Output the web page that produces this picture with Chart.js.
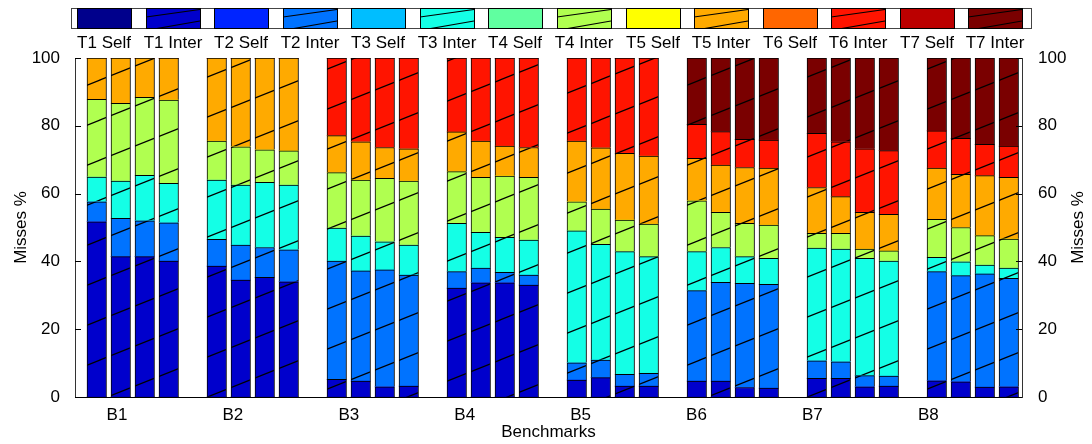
<!DOCTYPE html>
<html>
<head>
<meta charset="utf-8">
<script src="https://cdn.jsdelivr.net/npm/chart.js@4.4.1/dist/chart.umd.min.js"></script>
<style>
  body { margin: 0; background: #fff; }
</style>
</head>
<body>
<canvas id="myChart" width="1092" height="444"></canvas>
<script>
// benchmarks, 4 bars each
var categories = ["B1", "B2", "B3", "B4", "B5", "B6", "B7", "B8"];
var seriesNames = ["T1 Self", "T1 Inter", "T2 Self", "T2 Inter", "T3 Self", "T3 Inter", "T4 Self",
  "T4 Inter", "T5 Self", "T5 Inter", "T6 Self", "T6 Inter", "T7 Self", "T7 Inter"];
var seriesColors = ["#00008c", "#0000cc", "#0024ff", "#0073ff", "#00beff", "#14ffe6", "#60ffa0",
  "#b0ff50", "#ffff00", "#ffaa00", "#ff6600", "#ff1400", "#bb0000", "#7a0000"];

// values in % (Self series are all zero in the bars)
var t1Self = [0,0,0,0, 0,0,0,0, 0,0,0,0, 0,0,0,0, 0,0,0,0, 0,0,0,0, 0,0,0,0, 0,0,0,0];
var t1Inter = [51.7, 41.4, 41.4, 40.1, 38.6, 34.5, 35.3, 34.0, 5.2, 4.7, 3.0, 3.2, 32.1, 33.7, 33.7, 33.0,
  5.0, 5.7, 3.2, 3.2, 4.7, 4.7, 2.8, 2.6, 5.5, 5.5, 3.0, 3.2, 4.8, 4.5, 2.9, 3.0];
var t2Self = [0,0,0,0, 0,0,0,0, 0,0,0,0, 0,0,0,0, 0,0,0,0, 0,0,0,0, 0,0,0,0, 0,0,0,0];
var t2Inter = [5.9, 11.3, 10.6, 11.3, 7.9, 10.3, 8.8, 9.4, 34.9, 32.5, 34.5, 32.8, 4.9, 4.3, 3.1, 3.0,
  5.1, 5.2, 3.5, 3.8, 26.7, 29.1, 30.7, 30.6, 5.2, 4.9, 3.3, 3.0, 32.2, 31.3, 33.4, 32.0];
var t3Self = [0,0,0,0, 0,0,0,0, 0,0,0,0, 0,0,0,0, 0,0,0,0, 0,0,0,0, 0,0,0,0, 0,0,0,0];
var t3Inter = [7.3, 11.0, 13.4, 11.6, 17.5, 17.7, 19.2, 19.1, 9.7, 10.3, 8.3, 8.8, 14.2, 10.6, 10.3, 10.3,
  38.9, 34.1, 36.2, 34.4, 11.5, 10.3, 7.9, 7.7, 33.2, 33.2, 34.6, 33.9, 4.2, 4.1, 2.6, 3.0];
var t4Self = [0,0,0,0, 0,0,0,0, 0,0,0,0, 0,0,0,0, 0,0,0,0, 0,0,0,0, 0,0,0,0, 0,0,0,0];
var t4Inter = [22.9, 22.9, 23.0, 24.6, 11.5, 11.3, 9.6, 10.1, 16.4, 16.5, 18.7, 18.9, 15.3, 16.2, 18.1, 18.5,
  8.6, 10.4, 9.3, 9.6, 15.0, 10.4, 9.8, 9.8, 4.4, 4.7, 2.7, 3.0, 11.2, 10.1, 8.7, 8.6];
var t5Self = [0,0,0,0, 0,0,0,0, 0,0,0,0, 0,0,0,0, 0,0,0,0, 0,0,0,0, 0,0,0,0, 0,0,0,0];
var t5Inter = [12.2, 13.4, 11.6, 12.4, 24.5, 26.2, 27.1, 27.4, 10.9, 11.3, 9.1, 9.5, 11.7, 10.7, 8.8, 8.8,
  17.9, 18.1, 19.7, 20.1, 12.5, 13.9, 16.5, 16.8, 13.5, 10.8, 10.9, 10.8, 15.1, 15.7, 17.7, 18.2];
var t6Self = [0,0,0,0, 0,0,0,0, 0,0,0,0, 0,0,0,0, 0,0,0,0, 0,0,0,0, 0,0,0,0, 0,0,0,0];
var t6Inter = [0, 0, 0, 0, 0, 0, 0, 0, 22.9, 24.7, 26.4, 26.8, 21.8, 24.5, 26.0, 26.4,
  24.5, 26.5, 28.1, 28.9, 10.0, 9.9, 8.3, 8.3, 16.0, 16.2, 18.7, 18.8, 11.0, 10.6, 9.2, 9.2];
var t7Self = [0,0,0,0, 0,0,0,0, 0,0,0,0, 0,0,0,0, 0,0,0,0, 0,0,0,0, 0,0,0,0, 0,0,0,0];
var t7Inter = [0, 0, 0, 0, 0, 0, 0, 0, 0, 0, 0, 0, 0, 0, 0, 0,
  0, 0, 0, 0, 19.6, 21.7, 24.0, 24.2, 22.2, 24.7, 26.8, 27.3, 21.5, 23.7, 25.5, 26.0];
var yTicks = [0, 20, 40, 60, 80, 100];

var seriesData = [t1Self, t1Inter, t2Self, t2Inter, t3Self, t3Inter, t4Self, t4Inter,
  t5Self, t5Inter, t6Self, t6Inter, t7Self, t7Inter];

var FONT = "'Liberation Sans', Arial, Helvetica, sans-serif";
Chart.defaults.font.family = FONT;
Chart.defaults.font.size = 17;
Chart.defaults.color = "#000";

// bar k sits at group*5 + slot + 1 (gap of one slot between groups)
var barPos = k => Math.floor(k / 4) * 5 + (k % 4) + 1;
var isInter = name => name.indexOf("Inter") >= 0;

// diagonal hatch fill
var makeHatch = color => {
  var c = document.createElement("canvas");
  c.width = 100;
  c.height = 40;
  var g = c.getContext("2d");
  g.fillStyle = color;
  g.fillRect(0, 0, 100, 40);
  g.strokeStyle = "#000";
  g.lineWidth = 1.2;
  [-40, 0, 40].forEach(dy => {
    g.beginPath();
    g.moveTo(-100, 80 + dy);
    g.lineTo(200, -40 + dy);
    g.stroke();
  });
  return g.createPattern(c, "repeat");
};

var datasets = seriesNames.map((name, s) => ({
  label: name,
  data: seriesData[s].map((v, k) => ({ x: barPos(k), y: v })),
  backgroundColor: isInter(name) ? makeHatch(seriesColors[s]) : seriesColors[s],
  borderColor: "#000",
  borderWidth: ctx => (ctx.raw && ctx.raw.y ? { top: 1, left: 1, right: 1, bottom: 0 } : 0),
  borderSkipped: false,
  barThickness: 19.5
}));

// legend strip on top, labels under the swatches
var topLegend = {
  id: "topLegend",
  afterDraw(chart) {
    var ctx = chart.ctx;
    var left = 71, right = 1031, top = 8, h = 20;
    var step = (right - left) / seriesNames.length;
    ctx.save();
    ctx.fillStyle = "#fff";
    ctx.fillRect(left, top, right - left, h);
    ctx.strokeStyle = "#444";
    ctx.lineWidth = 1;
    ctx.strokeRect(left + 0.5, top + 0.5, right - left, h);
    seriesNames.forEach((name, i) => {
      var x0 = Math.round(left + i * step + 6);
      var w = 54;
      ctx.fillStyle = seriesColors[i];
      ctx.fillRect(x0, top + 1, w, h - 1);
      if (isInter(name)) {
        ctx.save();
        ctx.beginPath();
        ctx.rect(x0, top + 1, w, h - 1);
        ctx.clip();
        ctx.strokeStyle = "#000";
        ctx.lineWidth = 1.1;
        ctx.beginPath();
        ctx.moveTo(x0, top + 9);
        ctx.lineTo(x0 + w, top + 1.5);
        ctx.moveTo(x0 + 8, top + h + 1);
        ctx.lineTo(x0 + w, top + 13);
        ctx.stroke();
        ctx.restore();
      }
      ctx.strokeStyle = "#000";
      ctx.strokeRect(x0 + 0.5, top + 0.5, w, h);
      ctx.fillStyle = "#000";
      ctx.font = "17px " + FONT;
      ctx.textAlign = "center";
      ctx.textBaseline = "alphabetic";
      ctx.fillText(name, x0 + w / 2, 48);
    });
    ctx.restore();
  }
};

// inward tick marks on both y axes + right axis title
var axisExtras = {
  id: "axisExtras",
  afterDraw(chart) {
    var ctx = chart.ctx;
    var a = chart.chartArea;
    var y = chart.scales.y;
    ctx.save();
    ctx.strokeStyle = "#000";
    ctx.lineWidth = 1;
    yTicks.forEach(v => {
      var yy = Math.round(y.getPixelForValue(v)) + 0.5;
      ctx.beginPath();
      ctx.moveTo(a.left, yy);
      ctx.lineTo(a.left + 6, yy);
      ctx.moveTo(a.right, yy);
      ctx.lineTo(a.right - 6, yy);
      ctx.stroke();
    });
    ctx.translate(1078, (a.top + a.bottom) / 2);
    ctx.rotate(-Math.PI / 2);
    ctx.fillStyle = "#000";
    ctx.font = "17px " + FONT;
    ctx.textAlign = "center";
    ctx.textBaseline = "middle";
    ctx.fillText("Misses %", 0, 0);
    ctx.restore();
  }
};

var ctx = document.getElementById("myChart");
var chart = new Chart(ctx, {
  type: "bar",
  data: { datasets: datasets },
  options: {
    responsive: false,
    animation: false,
    layout: { padding: { top: 58, left: 0, right: 0, bottom: 0 } },
    plugins: {
      legend: { display: false },
      tooltip: { enabled: false }
    },
    scales: {
      x: {
        type: "linear",
        stacked: true,
        offset: false,
        bounds: "data",
        min: 0.094,
        max: 39.55,
        grid: { display: false, offset: false },
        border: { display: true, color: "#000", width: 1 },
        afterBuildTicks: scale => {
          scale.ticks = categories.map((c, i) => ({ value: 1.844 + i * 4.829 }));
        },
        ticks: {
          autoSkip: false,
          maxRotation: 0,
          padding: 0,
          callback: (v, i) => categories[i]
        },
        title: { display: true, text: "Benchmarks", padding: { top: 0, bottom: 1 } },
        afterFit: s => { s.height = 47; }
      },
      y: {
        stacked: true,
        min: 0,
        max: 100,
        afterBuildTicks: scale => { scale.ticks = yTicks.map(v => ({ value: v })); },
        ticks: { padding: 7 },
        grid: { display: false },
        border: { display: true, color: "#333", width: 1 },
        title: { display: true, text: "Misses %", padding: { top: 11, bottom: 0 } },
        afterFit: s => { s.width = 75; }
      },
      y2: {
        position: "right",
        display: true,
        min: 0,
        max: 100,
        afterBuildTicks: scale => { scale.ticks = yTicks.map(v => ({ value: v })); },
        ticks: { padding: 8 },
        grid: { display: false },
        border: { display: true, color: "#333", width: 1 },
        afterFit: s => { s.width = 70; }
      }
    }
  },
  plugins: [topLegend, axisExtras]
});
</script>
</body>
</html>
